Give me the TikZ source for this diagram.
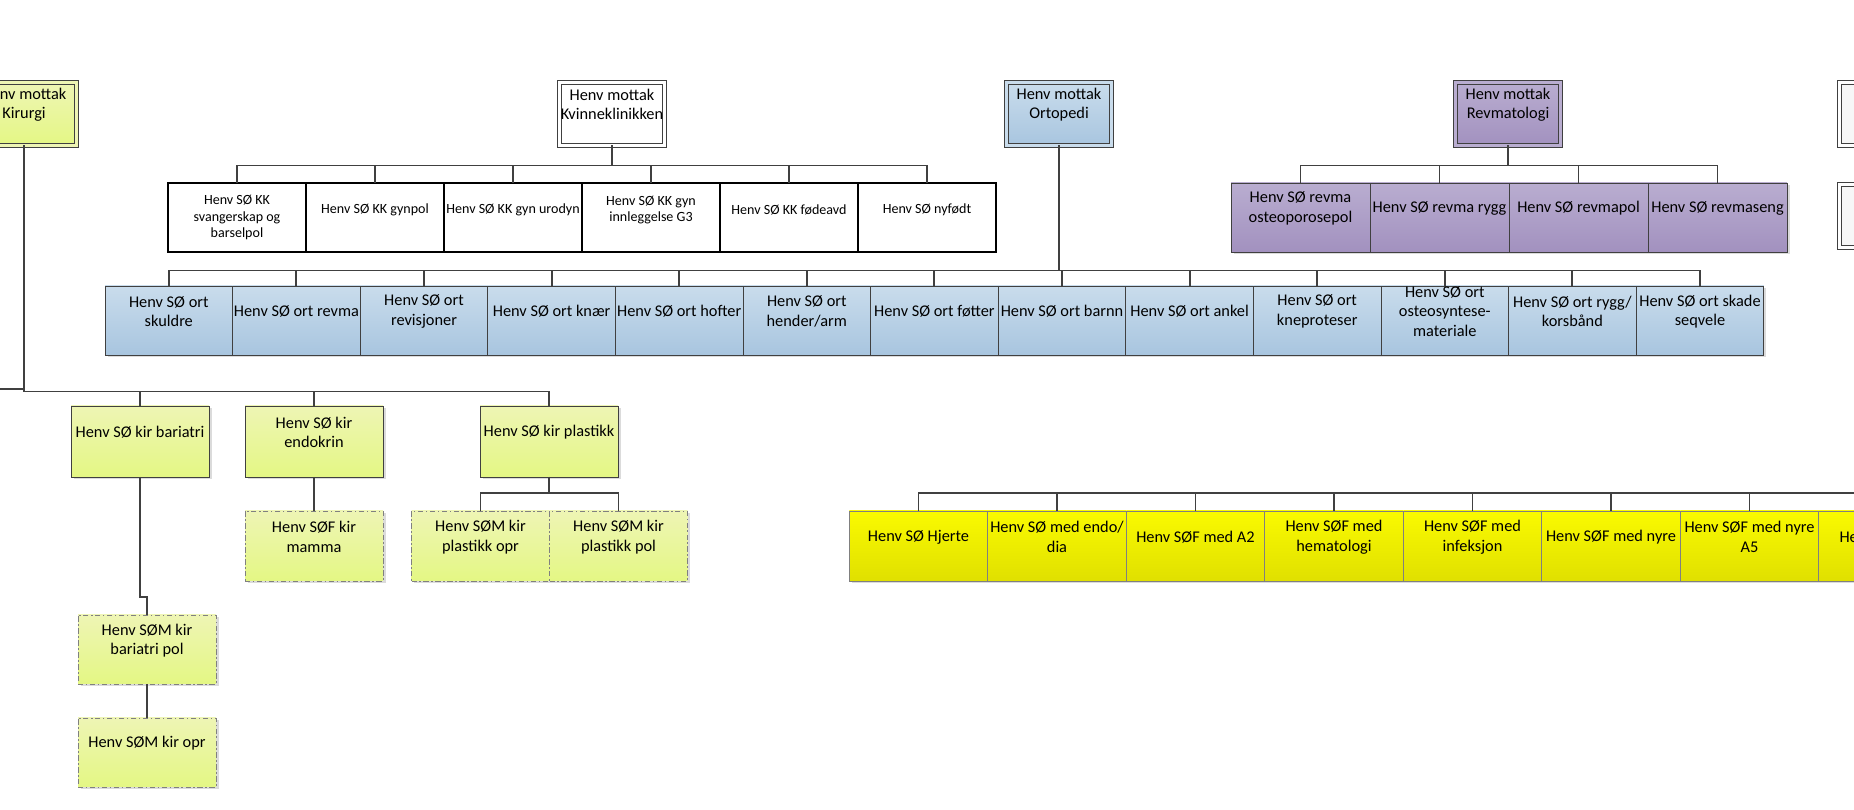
\documentclass[tikz,border=0pt]{standalone}
\usepackage{fontspec}
\setmainfont{Carlito}
\usetikzlibrary{positioning, shadows}

\definecolor{linegray}{HTML}{404040}
\definecolor{kirtop}{HTML}{EEF5B4}
\definecolor{kirbot}{HTML}{E4F784}
\definecolor{orttop}{HTML}{C9DCEC}
\definecolor{ortbot}{HTML}{A8C5DF}
\definecolor{revtop}{HTML}{B9ADD0}
\definecolor{revbot}{HTML}{A291BF}
\definecolor{medtop}{HTML}{FAFA00}
\definecolor{medbot}{HTML}{E0E000}
\newcommand{\pxu}{0.02cm}

\begin{document}
\begin{tikzpicture}[
  x=0.02cm, y=-0.02cm,
  every node/.style={font=\fontsize{9.3}{11.1}\selectfont},
  txt/.style={align=center, inner sep=0pt, yshift=0.18cm},
  shd/.style={drop shadow={shadow xshift=0.05cm, shadow yshift=-0.05cm, fill=black!40, opacity=0.35}},
  frame/.style={rectangle, draw=linegray, line width=0.5pt, inner sep=0pt, outer sep=0pt,
    minimum width=138*\pxu, minimum height=69*\pxu},
  head/.style={frame, shd, minimum width=105*\pxu, minimum height=63*\pxu, double distance=0.06cm,
    label={[txt, yshift=0.01cm]center:{#1}}},
  kk/.style={frame, draw=black, line width=0.8pt, fill=white,
    label={[txt, yshift=-0.03cm, font=\fontsize{8}{9.4}\selectfont]center:{#1}}},
  kklong/.style={frame, draw=black, line width=0.8pt, fill=white,
    label={[txt, yshift=-0.18cm, font=\fontsize{8}{9.4}\selectfont]center:{#1}}},
  ort/.style={frame, shd, minimum width=127.6*\pxu, top color=orttop, bottom color=ortbot,
    label={[txt]center:{#1}}},
  rev/.style={frame, shd, minimum width=139*\pxu, top color=revtop, bottom color=revbot,
    label={[txt]center:{#1}}},
  kir/.style={frame, shd, top color=kirtop, bottom color=kirbot, label={[txt]center:{#1}}},
  kirsub/.style={kir=#1, draw=gray, dash pattern=on 3pt off 1.5pt on 0.8pt off 1.5pt},
  med/.style={frame, shd, minimum width=138.5*\pxu, minimum height=70*\pxu, draw=gray,
    top color=medtop, bottom color=medbot, label={[txt]center:{#1}}},
  conn/.style={draw=linegray, line width=1.1pt}
]
\useasboundingbox (0,0) rectangle (1854,810);

% Mottak
\node[head={Henv mottak\\Kirurgi}, top color=kirtop, bottom color=kirbot, double=kirtop] (kirurgi) at (24,114) {};
\node[head={Henv mottak\\Kvinneklinikken}, fill=white, double=white] (kvinne) at (612,114) {};
\node[head={Henv mottak\\Ortopedi}, top color=orttop, bottom color=ortbot, double=orttop] (orto) at (1059,114) {};
\node[head={Henv mottak\\Revmatologi}, top color=revtop, bottom color=revbot, double=revtop] (revma) at (1508,114) {};
\node[head={}, fill=black!3, double=white] (misc1) at (1892,114) {};
\node[head={}, fill=black!3, double=white] (misc2) at (1892,216) {};

% Kvinneklinikken
\node[kklong={Henv SØ KK\\svangerskap og\\barselpol}] (kk1) at (237,217.5) {};
\node[kk={Henv SØ KK gynpol}, right=0pt of kk1] (kk2) {};
\node[kk={Henv SØ KK gyn urodyn}, right=0pt of kk2] (kk3) {};
\node[kk={Henv SØ KK gyn\\innleggelse G3}, right=0pt of kk3] (kk4) {};
\node[kk={Henv SØ KK fødeavd}, right=0pt of kk4] (kk5) {};
\node[kk={Henv SØ nyfødt}, right=0pt of kk5] (kk6) {};

% Revmatologi
\node[rev={Henv SØ revma\\osteoporosepol}] (rv1) at (1300.5,217.5) {};
\node[rev={Henv SØ revma rygg}, right=0pt of rv1] (rv2) {};
\node[rev={Henv SØ revmapol}, right=0pt of rv2] (rv3) {};
\node[rev={Henv SØ revmaseng}, right=0pt of rv3] (rv4) {};

% Ortopedi
\node[ort={Henv SØ ort\\skuldre}] (or1) at (168.8,320.5) {};
\node[ort={Henv SØ ort revma}, right=0pt of or1] (or2) {};
\node[ort={Henv SØ ort\\revisjoner}, right=0pt of or2] (or3) {};
\node[ort={Henv SØ ort knær}, right=0pt of or3] (or4) {};
\node[ort={Henv SØ ort hofter}, right=0pt of or4] (or5) {};
\node[ort={Henv SØ ort\\hender/arm}, right=0pt of or5] (or6) {};
\node[ort={Henv SØ ort føtter}, right=0pt of or6] (or7) {};
\node[ort={Henv SØ ort barnn}, right=0pt of or7] (or8) {};
\node[ort={Henv SØ ort ankel}, right=0pt of or8] (or9) {};
\node[ort={Henv SØ ort\\kneproteser}, right=0pt of or9] (or10) {};
\node[ort={Henv SØ ort\\osteosyntese-\\materiale}, right=0pt of or10] (or11) {};
\node[ort={Henv SØ ort rygg/\\korsbånd}, right=0pt of or11] (or12) {};
\node[ort={Henv SØ ort skade\\seqvele}, right=0pt of or12] (or13) {};

% Kirurgi
\node[kir={Henv SØ kir bariatri}, minimum height=71*\pxu] (bari) at (140,441.5) {};
\node[kir={Henv SØ kir\\endokrin}, minimum height=71*\pxu] (endo) at (314,441.5) {};
\node[kir={Henv SØ kir plastikk}, minimum height=71*\pxu] (plast) at (549,441.5) {};
\node[kirsub={Henv SØF kir\\mamma}, minimum height=70*\pxu] (mamma) at (314,546) {};
\node[kirsub={Henv SØM kir\\plastikk opr}, minimum height=70*\pxu] (plopr) at (480.5,546) {};
\node[kirsub={Henv SØM kir\\plastikk pol}, minimum height=70*\pxu, right=0pt of plopr] (plpol) {};
\node[kirsub={Henv SØM kir\\bariatri pol}] (baripol) at (147,649.5) {};
\node[kirsub={Henv SØM kir opr}] (bariopr) at (147,752.5) {};

% Medisin
\node[med={Henv SØ Hjerte}] (md1) at (918.5,546) {};
\node[med={Henv SØ med endo/\\dia}, right=0pt of md1] (md2) {};
\node[med={Henv SØF med A2}, right=0pt of md2] (md3) {};
\node[med={Henv SØF med\\hematologi}, right=0pt of md3] (md4) {};
\node[med={Henv SØF med\\infeksjon}, right=0pt of md4] (md5) {};
\node[med={Henv SØF med nyre}, right=0pt of md5] (md6) {};
\node[med={Henv SØF med nyre\\A5}, right=0pt of md6] (md7) {};
\node[med={He\phantom{nv SØF med}}, right=0pt of md7] (md8) {};

% Connectors
\draw[conn] (kvinne.south) -- ++(0,20) -| (kk1.north);
\draw[conn] (kvinne.south) -- ++(0,20) -| (kk2.north);
\draw[conn] (kvinne.south) -- ++(0,20) -| (kk3.north);
\draw[conn] (kvinne.south) -- ++(0,20) -| (kk4.north);
\draw[conn] (kvinne.south) -- ++(0,20) -| (kk5.north);
\draw[conn] (kvinne.south) -- ++(0,20) -| (kk6.north);

\draw[conn] (revma.south) -- ++(0,20) -| (rv1.north);
\draw[conn] (revma.south) -- ++(0,20) -| (rv2.north);
\draw[conn] (revma.south) -- ++(0,20) -| (rv3.north);
\draw[conn] (revma.south) -- ++(0,20) -| (rv4.north);

\foreach \n in {1,...,13}
  \draw[conn] (orto.south) -- ++(0,125) -| (or\n.north);

\coordinate (kirin) at (-5,389);
\draw[conn] (kirin) -- (kirin -| kirurgi.south);
\draw[conn] (kirurgi.south) -- ++(0,246) -| (bari.north);
\draw[conn] (kirurgi.south) -- ++(0,246) -| (endo.north);
\draw[conn] (kirurgi.south) -- ++(0,246) -| (plast.north);
\draw[conn] (endo.south) -- (mamma.north);
\draw[conn] (plast.south) -- ++(0,16) -| (plopr.north);
\draw[conn] (plast.south) -- ++(0,16) -| (plpol.north);
\draw[conn] (bari.south) -- ++(0,120) -| (baripol.north);
\draw[conn] (baripol.south) -- (bariopr.north);

\coordinate (medin) at (1870,493);
\foreach \n in {1,...,8}
  \draw[conn] (medin) -| (md\n.north);

\end{tikzpicture}
\end{document}
